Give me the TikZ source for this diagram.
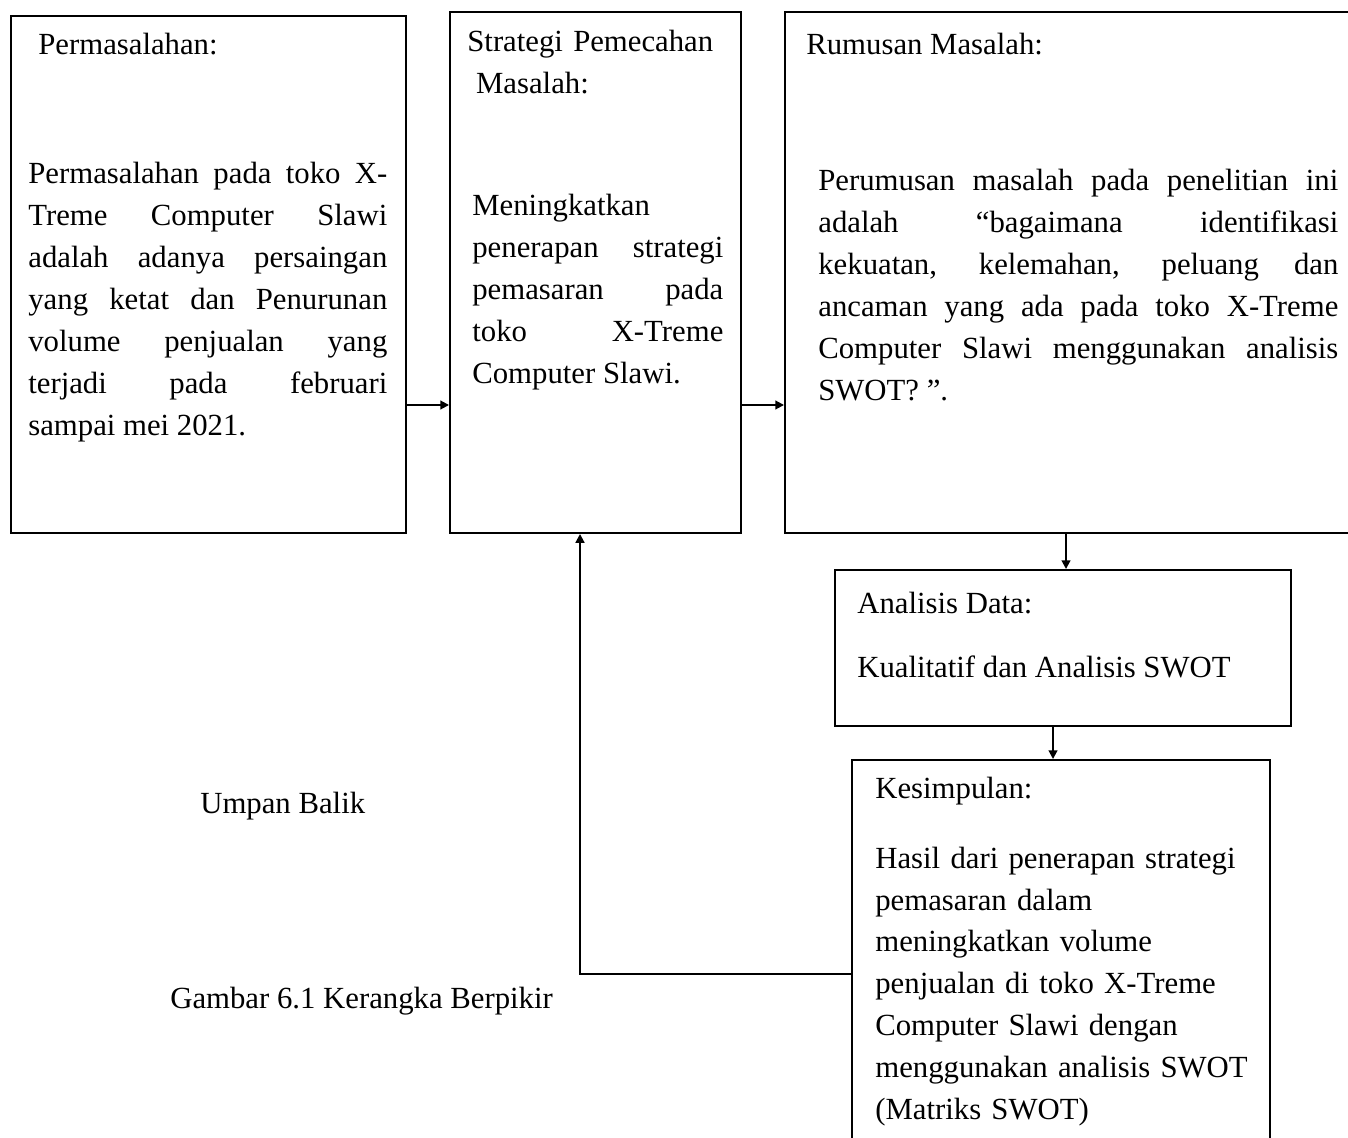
\documentclass[tikz,border=0pt]{standalone}
\usepackage{fontspec}
\setmainfont{Liberation Serif}
\usetikzlibrary{arrows.meta, positioning}

\tikzset{
  kotak/.style={draw, line width=1.1pt, inner sep=0pt},
  teks/.style={anchor=base west, inner sep=0pt, font=\fontsize{17.5}{23.9}\selectfont},
  isi/.style={teks, align=justify, text width=#1},
  daftar/.style={teks, align=left, text width=#1},
  panah/.style={->, line width=1.1pt},
}

\begin{document}
\begin{tikzpicture}[x=0.02cm, y=-0.02cm, >={Triangle[length=5pt,width=5pt]}]
\useasboundingbox (0,0) rectangle (1348,1138);

% kotak-kotak
\node[kotak, minimum width=395*0.02cm, minimum height=517*0.02cm] (permasalahan) at (208.5,274.5) {};
\node[kotak, minimum width=291*0.02cm, minimum height=521*0.02cm] (strategi) at (595.5,272.5) {};
\node[kotak, minimum width=595*0.02cm, minimum height=521*0.02cm] (rumusan) at (1082.5,272.5) {};
\node[kotak, minimum width=456*0.02cm, minimum height=156*0.02cm] (analisis) at (1063,648) {};
\node[kotak, minimum width=418*0.02cm, minimum height=410*0.02cm] (kesimpulan) at (1061,965) {};

% isi kotak
\node[teks] (judulA) at (38,55) {Permasalahan:};
\node[isi=359*0.02cm] (isiA) at (28,184) {Permasalahan pada toko X-\linebreak Treme Computer Slawi\linebreak adalah adanya persaingan\linebreak yang ketat dan Penurunan\linebreak volume penjualan yang\linebreak terjadi pada februari\linebreak sampai mei 2021.};

\node[daftar=260*0.02cm] (judulB) at (467,52) {Strategi Pemecahan\\\hspace*{5pt}Masalah:};
\node[isi=251*0.02cm] (isiB) at (472,216) {Meningkatkan\linebreak penerapan strategi\linebreak pemasaran pada\linebreak toko X-Treme\linebreak Computer Slawi.};

\node[teks] (judulC) at (806,55) {Rumusan Masalah:};
\node[isi=520*0.02cm] (isiC) at (818,191) {Perumusan masalah pada penelitian ini\linebreak adalah ``bagaimana identifikasi\linebreak kekuatan, kelemahan, peluang dan\linebreak ancaman yang ada pada toko X-Treme\linebreak Computer Slawi menggunakan analisis\linebreak SWOT? ''.};

\node[teks] (judulD) at (857,613) {Analisis Data:};
\node[teks] (isiD) at (857,677) {Kualitatif dan Analisis SWOT};

\node[teks] (judulE) at (875,798) {Kesimpulan:};
\node[daftar=390*0.02cm] (isiE) at (875,868) {Hasil dari penerapan strategi\\pemasaran dalam\\meningkatkan volume\\penjualan di toko X-Treme\\Computer Slawi dengan\\menggunakan analisis SWOT\\(Matriks SWOT)};

\node[teks] (umpan) at (200,813) {Umpan Balik};
\node[teks] (gambar) at (170,1008) {Gambar 6.1 Kerangka Berpikir};

% panah
\draw[panah] (permasalahan.east |- 0,405) -- (strategi.west |- 0,405);
\draw[panah] (strategi.east |- 0,405) -- (rumusan.west |- 0,405);
\draw[panah] (rumusan.south -| 1066,0) -- (analisis.north -| 1066,0);
\draw[panah] (analisis.south -| 1053,0) -- (kesimpulan.north -| 1053,0);
\draw[panah] (kesimpulan.west |- 0,974) -| (strategi.south -| 580,0);
\end{tikzpicture}
\end{document}
